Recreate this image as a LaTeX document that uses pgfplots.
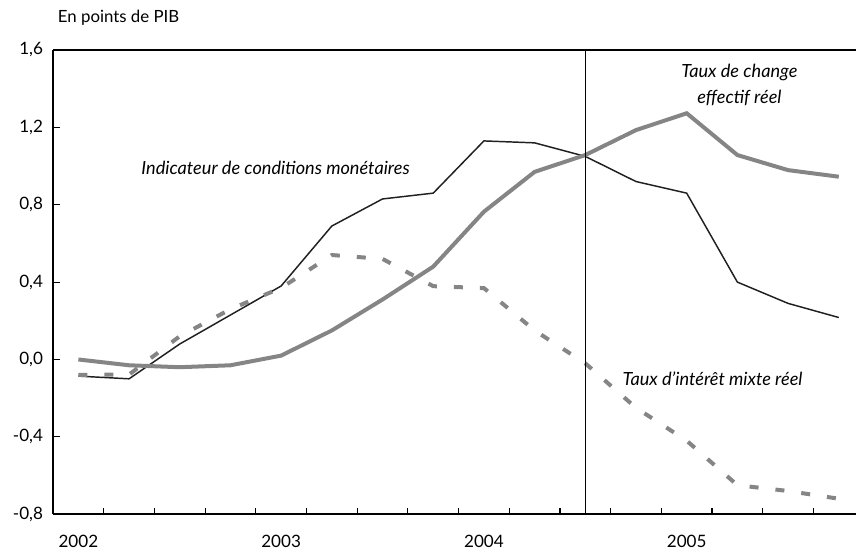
\documentclass[border=0pt]{standalone}
\usepackage{pgfplots}
\pgfplotsset{compat=1.18}
\usepackage{fontspec}
\setmainfont{Lato}
\definecolor{lgray}{HTML}{858585}
\definecolor{dline}{HTML}{202020}
\begin{document}
\begin{tikzpicture}
\begin{axis}[
  at={(0,0)}, anchor=south west,
  scale only axis, width=602pt, height=348pt,
  xmin=-0.5, xmax=15.34, ymin=-0.8, ymax=1.6,
  axis x line=box, axis y line*=left,
  axis line style={line width=1.4pt, black},
  clip=false,
  tick align=inside,
  xtick={0,4,8,12},
  xticklabels={2002,2003,2004,2005},
  major x tick style={draw=none},
  minor xtick={0.5,1.5,...,14.5},
  minor tick length=5pt,
  minor x tick style={line width=0.9pt, black},
  xtick pos=bottom,
  ytick={-0.8,-0.4,0,0.4,0.8,1.2,1.6},
  yticklabels={{-0,8},{-0,4},{0,0},{0,4},{0,8},{1,2},{1,6}},
  major tick length=5.5pt,
  y tick style={line width=0.9pt, black},
  xticklabel style={font=\fontsize{12.8}{14}\selectfont, yshift=-12pt},
  yticklabel style={font=\fontsize{12.8}{14}\selectfont, xshift=-4pt},
]
% Indicateur de conditions monetaires
\addplot[dline, line width=1.1pt] coordinates {
(0,-0.086) (1,-0.10) (2,0.08) (3,0.23) (4,0.38) (5,0.69) (6,0.83) (7,0.86)
(8,1.13) (9,1.12) (10,1.05) (11,0.92) (12,0.86) (13,0.40) (14,0.29) (15,0.217)};
% Taux de change effectif reel
\addplot[lgray, line width=3pt] coordinates {
(0,0.00) (1,-0.03) (2,-0.04) (3,-0.03) (4,0.02) (5,0.15) (6,0.31) (7,0.48)
(8,0.764) (9,0.97) (10,1.057) (11,1.186) (12,1.273) (13,1.057) (14,0.979) (15,0.945)};
% Taux d'interet mixte reel
\addplot[lgray, line width=3pt, dash pattern=on 6.75pt off 12.75pt] coordinates {
(0,-0.08) (1,-0.078) (2,0.12) (3,0.26) (4,0.37) (5,0.54) (6,0.52) (7,0.379)
(8,0.369) (9,0.15) (10,-0.02) (11,-0.25) (12,-0.42) (13,-0.65) (14,-0.68) (15,-0.72)};
\draw[black, line width=0.9pt] (axis cs:10,-0.8) -- (axis cs:10,1.6);
\node[font=\fontsize{13.6}{15}\selectfont\itshape] at (axis cs:3.89,0.99) {Indicateur de conditions monétaires};
\node[font=\fontsize{13.6}{19.5}\selectfont\itshape, align=center] at (axis cs:13.04,1.419) {Taux de change\\effectif réel};
\node[font=\fontsize{13.6}{15}\selectfont\itshape] at (axis cs:12.51,-0.10) {Taux d'intérêt mixte réel};
\node[font=\fontsize{12.6}{14}\selectfont, anchor=west, inner sep=0pt] at (axis cs:-0.5,1.6) [xshift=3.5pt, yshift=24pt] {En points de PIB};
\end{axis}
\pgfresetboundingbox
\path (-39.75pt,-33pt) rectangle (602pt,385.5pt);
\end{tikzpicture}
\end{document}
